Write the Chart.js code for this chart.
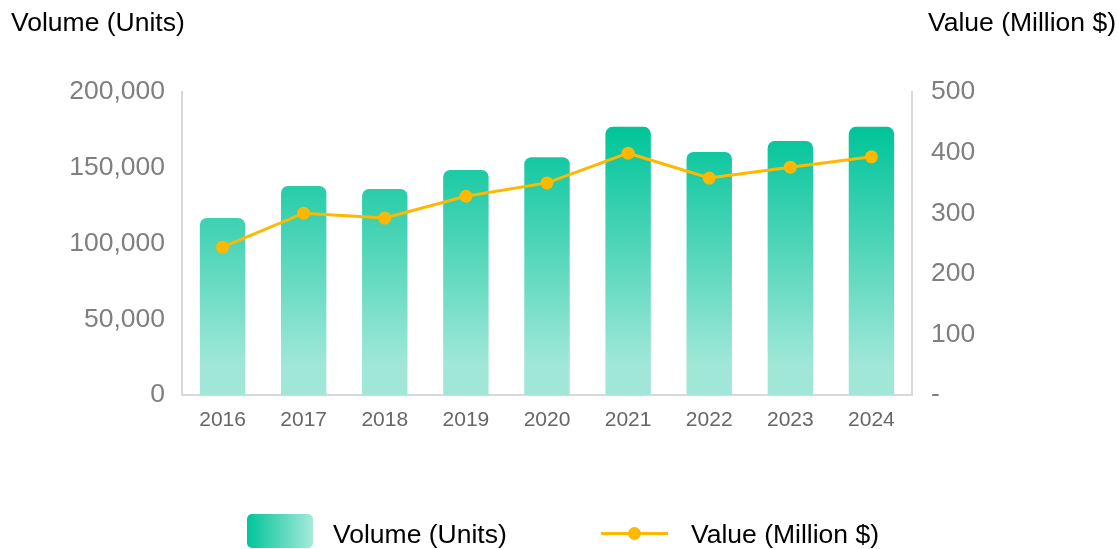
<!DOCTYPE html>
<html>
<head>
<meta charset="utf-8">
<script src="https://cdn.jsdelivr.net/npm/chart.js@4"></script>
<style>
  body { margin: 0; background: #fff; font-family: "Liberation Sans", Arial, sans-serif; }
  #wrap { position: relative; width: 1119px; height: 549px; }
  #chart { position: absolute; left: 0; top: 0; }
  .title { position: absolute; top: 7px; font-size: 26.5px; color: #000; white-space: nowrap; }
  .legend { position: absolute; top: 514px; left: 0; width: 1119px; height: 35px; }
  .legend .box { position: absolute; left: 247px; top: 0; width: 66px; height: 34px; border-radius: 5px;
    background: linear-gradient(to right, #00c49a, #a6eadb); }
  .legend .txt { position: absolute; top: 5px; font-size: 26.5px; color: #000; white-space: nowrap; }
  .legend .ln { position: absolute; left: 601px; top: 18px; width: 67px; height: 3px; background: #ffb800; }
  .legend .dot { position: absolute; left: 628px; top: 13px; width: 13px; height: 13px; border-radius: 50%; background: #ffb800; }
</style>
</head>
<body>
<div id="wrap">
  <canvas id="chart" width="1119" height="549"></canvas>
  <div class="title" style="left:11px;">Volume (Units)</div>
  <div class="title" style="right:3px;">Value (Million $)</div>
  <div class="legend">
    <div class="box"></div>
    <div class="txt" style="left:333px;">Volume (Units)</div>
    <div class="ln"></div>
    <div class="dot"></div>
    <div class="txt" style="left:691px;">Value (Million $)</div>
  </div>
</div>
<script>
// 원본 데이터
const years = ['2016', '2017', '2018', '2019', '2020', '2021', '2022', '2023', '2024'];
const volumeUnits = [116800, 138000, 136000, 148500, 157000, 177000, 160400, 167700, 177000];
const valueMillion = [244, 300, 292, 328, 350, 399, 358, 376, 393];

const tickColor = '#7f7f7f';
const axisColor = '#d9d9d9';

function barGradient(context) {
  const chart = context.chart;
  const area = chart.chartArea;
  if (!area) return '#2ccfae';
  const g = chart.ctx.createLinearGradient(0, area.top, 0, area.bottom);
  g.addColorStop(0, '#00c49a');
  g.addColorStop(0.12, '#00c49a');
  g.addColorStop(0.9, '#a0e7d8');
  g.addColorStop(1, '#a0e7d8');
  return g;
}

new Chart(document.getElementById('chart').getContext('2d'), {
  data: {
    labels: years,
    datasets: [{
      type: 'line',
      label: 'Value (Million $)',
      data: valueMillion,
      yAxisID: 'y1',
      borderColor: '#ffb800',
      backgroundColor: '#ffb800',
      borderWidth: 3,
      pointRadius: 6.5,
      pointHoverRadius: 6.5,
      pointBackgroundColor: '#ffb800',
      pointBorderWidth: 0,
      tension: 0
    }, {
      type: 'bar',
      label: 'Volume (Units)',
      data: volumeUnits,
      yAxisID: 'y',
      backgroundColor: barGradient,
      borderRadius: { topLeft: 7, topRight: 7 },
      borderSkipped: 'start',
      categoryPercentage: 1,
      barPercentage: 0.56
    }]
  },
  options: {
    responsive: false,
    animation: false,
    layout: { padding: { top: 92, left: 0, right: 0, bottom: 0 } },
    plugins: { legend: { display: false }, tooltip: { enabled: false } },
    scales: {
      x: {
        grid: { display: false },
        border: { color: axisColor, width: 2 },
        ticks: { color: '#666', font: { family: 'Liberation Sans', size: 21 }, padding: 5 },
        afterFit: s => { s.height = 549 - 395; }
      },
      y: {
        position: 'left',
        min: 0, max: 200000,
        grid: { display: false },
        border: { color: axisColor, width: 2 },
        ticks: {
          stepSize: 50000,
          color: tickColor,
          font: { family: 'Liberation Sans', size: 26.5 },
          padding: 9,
          callback: v => v.toLocaleString('en-US')
        },
        afterFit: s => { s.width = 182; }
      },
      y1: {
        position: 'right',
        min: 0, max: 500,
        grid: { display: false },
        border: { color: axisColor, width: 2 },
        ticks: {
          stepSize: 100,
          color: tickColor,
          font: { family: 'Liberation Sans', size: 26.5 },
          padding: 11,
          callback: v => v === 0 ? '-' : v
        },
        afterFit: s => { s.width = 1119 - 912; }
      }
    }
  }
});
</script>
</body>
</html>
